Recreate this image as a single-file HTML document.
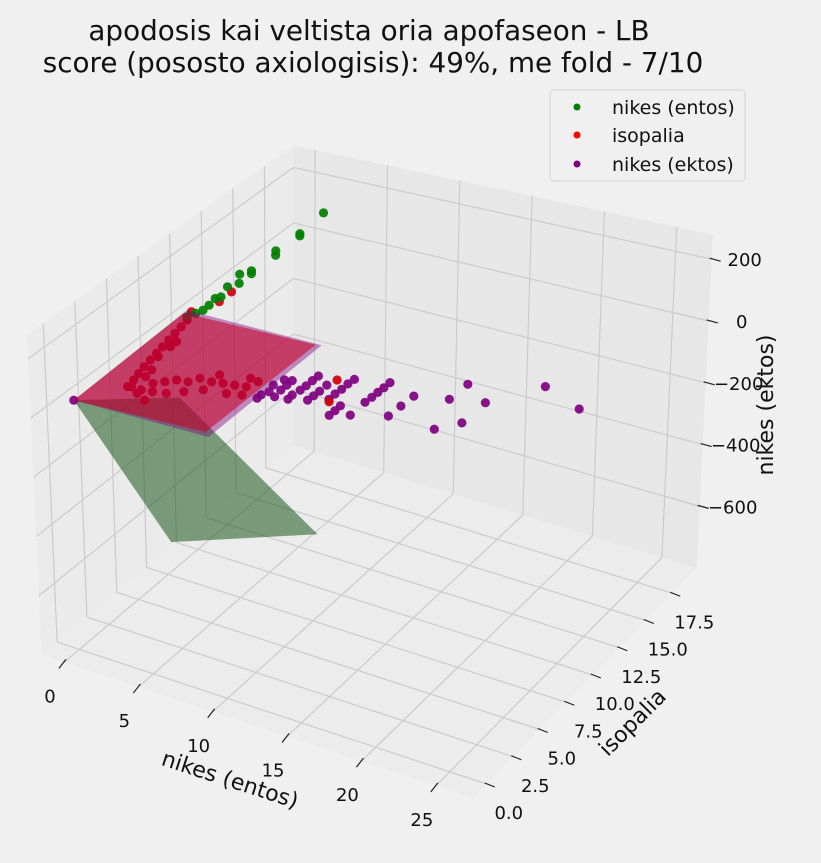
<!DOCTYPE html>
<html><head><meta charset="utf-8"><style>
html,body{margin:0;padding:0;background:#f0f0f0;}
svg{display:block;font-family:"DejaVu Sans","Liberation Sans",sans-serif;}
</style></head><body>
<svg id="chart" width="821" height="863" viewBox="0 0 821 863">
<rect x="0" y="0" width="821" height="863" fill="#f0f0f0"/>
<text x="369" y="40" font-size="27.8" text-anchor="middle" fill="#111">apodosis kai veltista oria apofaseon - LB</text>
<text x="373" y="72" font-size="27.8" text-anchor="middle" fill="#111">score (pososto axiologisis): 49%, me fold - 7/10</text>
<g id="panes"></g><g id="grid"></g><g id="planesBack"></g><g id="pts"></g><g id="planesFront"></g><g id="ticks"></g>
<g>
<rect x="550" y="90" width="195" height="91" rx="4" fill="#f0f0f0" stroke="#d4d4d4"/>
<circle cx="577" cy="107" r="3.5" fill="#008000"/>
<text x="612" y="114" font-size="19" fill="#111">nikes (entos)</text>
<circle cx="577" cy="135" r="3.5" fill="#ff0000"/>
<text x="612" y="142" font-size="19" fill="#111">isopalia</text>
<circle cx="577" cy="164" r="3.5" fill="#800080"/>
<text x="612" y="171" font-size="19" fill="#111">nikes (ektos)</text>
</g>
<text x="230" y="787" font-size="22" text-anchor="middle" fill="#111" transform="rotate(18 230 780)">nikes (entos)</text>
<text x="632" y="730" font-size="22" text-anchor="middle" fill="#111" transform="rotate(-45 632 722)">isopalia</text>
<text x="765" y="413" font-size="22" text-anchor="middle" fill="#111" transform="rotate(-90 765 405)">nikes (ektos)</text>
</svg>
<script>
const xTicks=[0,5,10,15,20,25];
const yTicks=[0,2.5,5,7.5,10,12.5,15,17.5];
const yTickLabels=["0.0","2.5","5.0","7.5","10.0","12.5","15.0","17.5"];
const zTicks=[-600,-400,-200,0,200];
const zTickLabels=["\u2212600","\u2212400","\u2212200","0","200"];
const xLim=[-1.5,27.5];
const yLim=[-1.3,19.8];
const zLim=[-800,280];
const entosX=[7.83,6.31,6.31,4.74,4.74,3.17,3.17,2.38,2.38,1.6,1.2,0.81,0.42,0.03,-0.45,-1.02];
const entosY=[10,10,10,10,10,10,10,10,10,10,10,10,10,10,10,10];
const entosZ=[390,299,292,219,205,130,121,107,77,54,15,4,-24,-46,-64,-84];
const isoX=[3.33,3.07,2.68,2.29,1.89,1.5,1.11,0.71,0.32,-0.02,-0.34,-0.47,0.19,0.97,1.76,2.55,3.33,4.12,4.91,5.69,6.48,7.27,8.05,5.43,7.53,-0.73,-0.08,0.97,0.46,1.89,3.07,4.38,5.96,7.0,1.24,0.84,0.46,2.02,2.42,5.96,5.17,13.37,12.9];
const isoY=[4,4,4,4,4,4,4,4,4,4,4,4,4,4,4,4,4,4,4,4,4,4,4,4,4,4,4,4,4,4,4,4,4,4,4,4,4,4,4,4,4,4,4];
const isoZ=[212,181,153,126,98,70,43,15,-13,-40,-66,-90,-90,-57,-39,-21,-15,9,10,17,23,30,59,40,62,-94,-105,-84,-119,-75,-51,-25,-12,-1,34,-15,-43,78,101,317,273,147,69];
const ektosX=[23.36,25.71,18.12,19.37,17.85,16.01,16.93,14.52,13.68,12.87,12.87,12.48,12.08,11.69,11.25,10.46,10.04,9.64,9.2,8.81,9.6,9.25,8.88,10.3,8.62,8.02,7.63,7.23,6.84,8.15,7.76,7.37,6.27,5.92,6.32,6.05,5.74,5.01,4.75,4.22,3.96,5.53,5.14,-1.6];
const ektosY=[10,10,10,10,10,10,10,10,10,10,10,10,10,10,10,10,10,10,10,10,10,10,10,10,10,10,10,10,10,10,10,10,10,10,10,10,10,10,10,10,10,10,10,0];
const ektosZ=[69,33,-5,-45,-134,-183,-72,-99,-144,-81,-189,-104,-125,-147,-170,-108,-129,-153,-175,-198,-207,-228,-249,-226,-155,-135,-156,-179,-199,-182,-203,-223,-177,-197,-223,-241,-183,-211,-237,-255,-270,-219,-247,-10];
const greenPlaneX=[-1.6,5.43,5.9,-1.6];
const greenPlaneY=[0,0,13.8,10.5];
const greenPlaneZ=[-10,-360,-814,-372];
const purplePlaneX=[-1.6,7.6,7.6,-1.6];
const purplePlaneY=[0,0,10.8,10.8];
const purplePlaneZ=[-10,14,-70,-100];
const redPlaneX=[-1.6,7.4,7.4,-1.6];
const redPlaneY=[0,0,10.5,10.5];
const redPlaneZ=[-10,27,-61,-98];

const NS="http://www.w3.org/2000/svg";
function P(x,y,z){return [97.3+14.6*x+10.6*y+0.015*z, 404.8+4.8*x-10.9*y-0.309*z];}
const corr={"000":[-8,-4],"100":[0,0],"010":[20,16],"110":[0,0],"001":[-39,10],"101":[-8,0],"011":[4,50],"111":[0,0]};
function Q(x,y,z){
  const p=P(x,y,z);
  const u=(x-xLim[0])/(xLim[1]-xLim[0]),v=(y-yLim[0])/(yLim[1]-yLim[0]),w=(z-zLim[0])/(zLim[1]-zLim[0]);
  let dx=0,dy=0;
  for(const k in corr){const a=+k[0],b=+k[1],c=+k[2];const f=(a?u:1-u)*(b?v:1-v)*(c?w:1-w);dx+=f*corr[k][0];dy+=f*corr[k][1];}
  return [p[0]+dx,p[1]+dy];
}
function mk(tag,attrs,parent){const e=document.createElementNS(NS,tag);for(const k in attrs)e.setAttribute(k,attrs[k]);parent.appendChild(e);return e;}
function poly(pts){return pts.map(p=>p[0].toFixed(1)+","+p[1].toFixed(1)).join(" ");}

const panes=document.getElementById('panes');
const [x0,x1]=xLim,[y0,y1]=yLim,[z0,z1]=zLim;
let e;
e=mk('polygon',{points:poly([Q(x0,y0,z0),Q(x1,y0,z0),Q(x1,y1,z0),Q(x0,y1,z0)]),fill:'#ececec'},panes);


e=mk('polygon',{points:poly([Q(x0,y0,z0),Q(x0,y1,z0),Q(x0,y1,z1),Q(x0,y0,z1)]),fill:'#ebebeb'},panes);


e=mk('polygon',{points:poly([Q(x0,y1,z0),Q(x1,y1,z0),Q(x1,y1,z1),Q(x0,y1,z1)]),fill:'#e7e7e7'},panes);



const grid=document.getElementById('grid');
function gl(a,b,name){const l=mk('line',{x1:a[0],y1:a[1],x2:b[0],y2:b[1],stroke:'#cbcbcb','stroke-width':1.2},grid);}
xTicks.forEach(t=>{gl(Q(t,y0,z0),Q(t,y1,z0),'x-gridline');gl(Q(t,y1,z0),Q(t,y1,z1),'x-gridline');});
yTicks.forEach(t=>{gl(Q(x0,t,z0),Q(x1,t,z0),'y-gridline');gl(Q(x0,t,z0),Q(x0,t,z1),'y-gridline');});
zTicks.forEach(t=>{gl(Q(x0,y0,t),Q(x0,y1,t),'z-gridline');gl(Q(x0,y1,t),Q(x1,y1,t),'z-gridline');});

function plane(X,Y,Z,fill,op,g,name){const pts=X.map((v,i)=>P(v,Y[i],Z[i]));const p=mk('polygon',{points:poly(pts),fill:fill,'fill-opacity':op},g);}
plane(greenPlaneX,greenPlaneY,greenPlaneZ,'rgb(15,80,15)',0.52,document.getElementById('planesBack'),'green-plane');

const pts=document.getElementById('pts');
function scatter(X,Y,Z,col,name){X.forEach((v,i)=>{const p=P(v,Y[i],Z[i]);const c=mk('circle',{cx:p[0].toFixed(1),cy:p[1].toFixed(1),r:4.6,fill:col,'fill-opacity':0.92},pts);});}
scatter(ektosX,ektosY,ektosZ,'#800080','point-nikes-ektos');
scatter(isoX,isoY,isoZ,'#d0000c','point-isopalia');
scatter(entosX,entosY,entosZ,'#008000','point-nikes-entos');

const pf=document.getElementById('planesFront');
plane(purplePlaneX,purplePlaneY,purplePlaneZ,'rgb(128,0,128)',0.42,pf,'purple-plane');
plane(redPlaneX,redPlaneY,redPlaneZ,'rgb(200,0,30)',0.55,pf,'red-plane');

const ticks=document.getElementById('ticks');
function tk(a,b,name){const l=mk('line',{x1:a[0],y1:a[1],x2:b[0],y2:b[1],stroke:'#222','stroke-width':1.2},ticks);}
function lbl(x,y,s,name){const t=mk('text',{x:x,y:y,'font-size':18,'text-anchor':'middle',fill:'#111'},ticks);t.textContent=s;}
xTicks.forEach(t=>{const p=Q(t,y0,z0);tk([p[0]+2,p[1]-3],[p[0]-5,p[1]+6],'x-tick');lbl(p[0]-14,p[1]+40,String(t),'x-tick-label');});
yTicks.forEach((t,i)=>{const p=Q(x1,t,z0);tk([p[0]-2,p[1]-1],[p[0]+8,p[1]+3],'y-tick');lbl(p[0]+22,p[1]+35,yTickLabels[i],'y-tick-label');});
zTicks.forEach((t,i)=>{const p=Q(x1,y1,t);tk([p[0]-2,p[1]-1],[p[0]+9,p[1]+2],'z-tick');lbl(p[0]+33,p[1]+7,zTickLabels[i],'z-tick-label');});
</script>
</body></html>
